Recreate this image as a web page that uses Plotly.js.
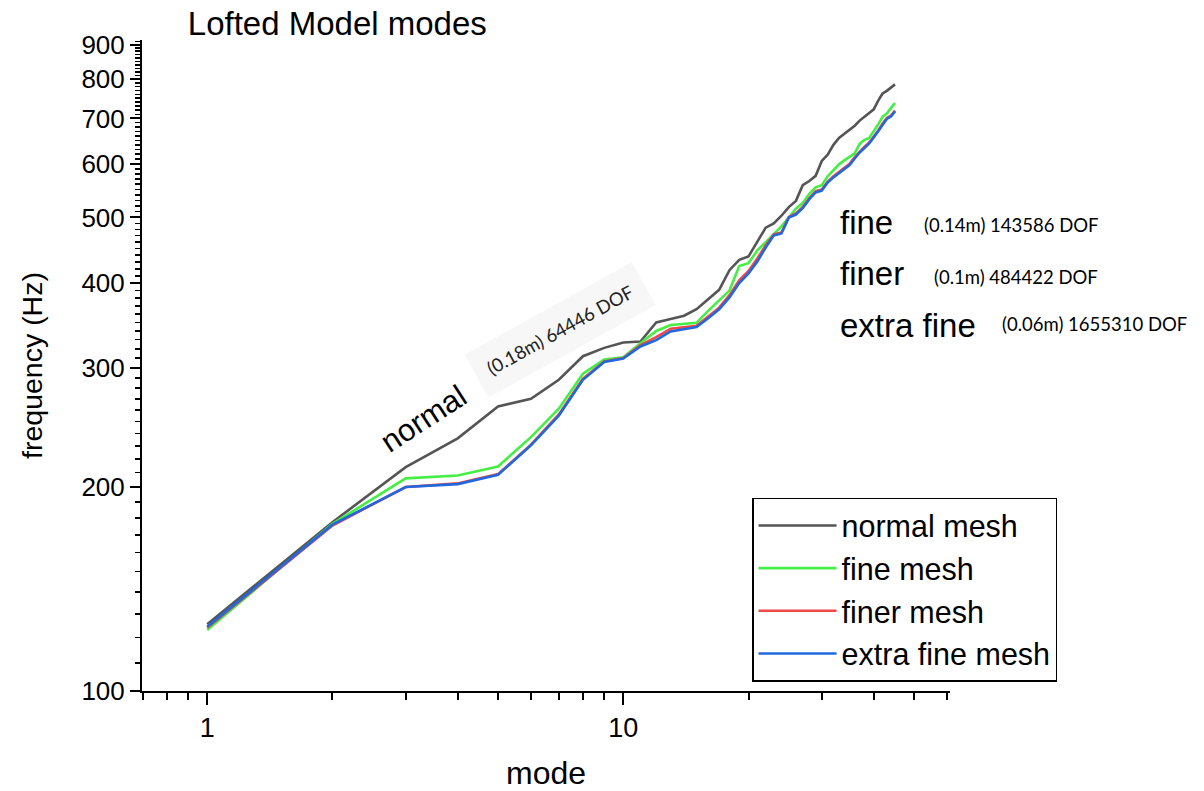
<!DOCTYPE html>
<html><head><meta charset="utf-8">
<script src="https://cdn.plot.ly/plotly-3.0.1.min.js"></script>
<style>html,body{margin:0;padding:0;background:#fff}#chart{width:1204px;height:791px}</style>
</head><body><div id="chart"></div>
<script>
const modes = [1,2,3,4,5,6,7,8,9,10,11,12,13,14,15,16,17,18,19,20,21,22,23,24,25,26,27,28,29,30,31,32,33,34,35,36,37,38,39,40,41,42,43,44,45];

const normalMesh = [125.5,177.5,214,236,263,270,288,312,321,327,328,350,354,358,366,379,391,418,433,438,461,483,490,503,518,529,558,566,576,606,619,640,655,665,673,683,695,704,712,722,744,762,769,778,786];

const fineMesh = [123,176.5,206,208,214.5,237,261,294,308.5,311,326,340,347,348,349.5,364,377,390,424,428,447,460,472,485,500,515,525,542,554,558,575,587,599,607,615,622,642,651,655,670,686,704,712,725,738];

const finerMesh = [124,175.5,200,202.5,209,231,256,289,306.5,310,324,333,342.5,344.5,346,357,368,384,404,417,435,455,472,475,501,507,518,534,547,550,565,575,583,591,600,614,626,636,645,658,672,688,701,707,719];

const extraFineMesh = [124.4,176,200,202,208.5,230.5,255,288,306,309.5,322.5,329.5,339.5,342.5,344.5,355,366,381,400,413.5,430.5,451.5,470.5,473.5,500,505,516,532,544.5,548,563,573,581,589,597.5,611,623.5,633,643,656,670,686,699,705,717];

const seriesNames = ['normal mesh','fine mesh','finer mesh','extra fine mesh'];
const seriesColors = ['#555555','#44ee44','#ee4848','#2068dc'];

const yTickVals = [100,200,300,400,500,600,700,800,900];
const yTickText = ['100','200','300','400','500','600','700','800','900'];
const xTickVals = [1,10];
const xTickText = ['1','10'];
const xMinorVals = [0.7,0.8,0.9,2,3,4,5,6,7,8,9,20,30,40,50,60];
const yMinorVals = [];
for (let v = 110; v <= 910; v += 10) { if (v % 100 !== 0) yMinorVals.push(v); }

const meshLabels = ['fine','finer','extra fine'];
const meshInfo = ['(0.14m) 143586 DOF','(0.1m) 484422 DOF','(0.06m) 1655310 DOF'];
const normalLabel = 'normal';
const normalInfo = '(0.18m) 64446 DOF';

const allY = [normalMesh, fineMesh, finerMesh, extraFineMesh];
const traces = allY.map((ys, i) => ({
  x: modes, y: ys, type: 'scatter', mode: 'lines', name: seriesNames[i],
  line: {color: seriesColors[i], width: 2.6}
}));

const FF = 'Liberation Sans, Arial, sans-serif';
const bigFont = {family: FF, size: 33, color: '#000'};
const smallFont = {family: 'Lato, Open Sans, sans-serif', size: 18.5, color: '#000'};

const labelY = [0.720, 0.6406, 0.5607];
const infoX = [0.965, 0.978, 1.062];
const infoY = [0.716, 0.636, 0.5637];
const annotations = [];
meshLabels.forEach((t, i) => {
  annotations.push({xref:'paper', yref:'paper', x:0.861, y:labelY[i], xanchor:'left', yanchor:'middle', text:t, showarrow:false, font:bigFont});
  annotations.push({xref:'paper', yref:'paper', x:infoX[i], y:infoY[i], xanchor:'left', yanchor:'middle', text:meshInfo[i], showarrow:false, font:smallFont});
});
annotations.push({xref:'paper', yref:'paper', x:0.349, y:0.419, xanchor:'center', yanchor:'middle', text:normalLabel, showarrow:false, textangle:-33, font:{family:FF, size:31, color:'#000'}});
annotations.push({xref:'paper', yref:'paper', x:0.517, y:0.555, xanchor:'center', yanchor:'middle', text:normalInfo, showarrow:false, textangle:-29, font:{family:'Lato, Open Sans, sans-serif', size:18.5, color:'#222'}, bgcolor:'rgba(246,246,246,0.85)', borderpad:13});

const layout = {
  width: 1204, height: 791,
  margin: {l:142, r:254, t:40, b:100},
  paper_bgcolor: '#fff', plot_bgcolor: '#fff',
  showlegend: true,
  title: {text:'Lofted Model modes', font:{family:FF, size:33, color:'#000'}, xref:'container', yref:'container', x:0.156, xanchor:'left', y:0.970, yanchor:'middle'},
  xaxis: {
    type:'log', range:[Math.log10(0.697), Math.log10(61)],
    tickmode:'array', tickvals:xTickVals, ticktext:xTickText,
    ticks:'outside', ticklen:12, tickwidth:2, tickcolor:'#000',
    showline:true, linecolor:'#000', linewidth:2, showgrid:false, zeroline:false,
    tickfont:{family:FF, size:27, color:'#000'},
    minor:{tickmode:'array', tickvals:xMinorVals, ticks:'outside', ticklen:7, tickwidth:2, tickcolor:'#000', showgrid:false},
    title:{text:'mode', font:{family:FF, size:32, color:'#000'}, standoff:20}
  },
  yaxis: {
    type:'log', range:[2, Math.log10(914)],
    tickmode:'array', tickvals:yTickVals, ticktext:yTickText,
    ticks:'outside', ticklen:10, tickwidth:2, tickcolor:'#000',
    showline:true, linecolor:'#000', linewidth:2, showgrid:false, zeroline:false,
    tickfont:{family:FF, size:26, color:'#000'},
    minor:{tickmode:'array', tickvals:yMinorVals, ticks:'outside', ticklen:5, tickwidth:1.5, tickcolor:'#000', showgrid:false},
    title:{text:'frequency (Hz)', font:{family:FF, size:28.5, color:'#000'}, standoff:30}
  },
  legend: {
    x:0.755, y:0.297, xanchor:'left', yanchor:'top',
    bgcolor:'#fff', bordercolor:'#000', borderwidth:1.5,
    font:{family:FF, size:30.5, color:'#000'},
    tracegroupgap:0, itemwidth:78
  },
  annotations: annotations
};

Plotly.newPlot('chart', traces, layout, {displayModeBar:false, staticPlot:true});
</script>
</body></html>
